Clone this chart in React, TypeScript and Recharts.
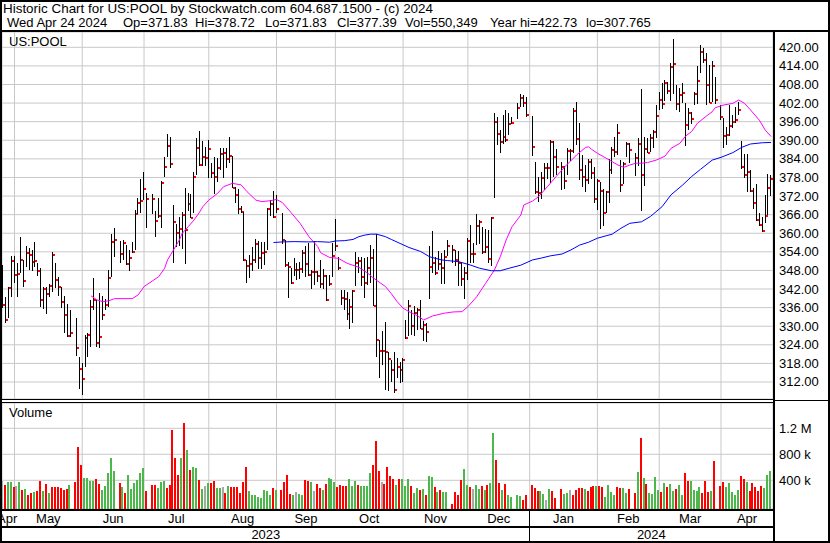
import React from 'react'
import { ComposedChart, Bar, Line, XAxis, YAxis, CartesianGrid } from 'recharts'

const FONT = 'Arial, "Liberation Sans", sans-serif'

// one slot per weekday, slot 1 = Tue Apr 25 2023, market holidays are null
const FIRST_SLOT = 1

const HIGH = [
  349.7, 339.5, 342.8, 352.7, 352.5, 350.3, 358.7, 351.4, 355.9, 355.1,
  354.6, 357.2, 350.3, 348.7, 342.8, 342.8, 343.6, 353.9, 350.3, 346.0,
  342.8, 339.6, 337.2, 335.2, null, 332.6, 320.2, 318.0, 327.2, 327.9,
  338.5, 345.4, 338.3, 340.6, 339.6, 338.7, 348.2, 359.8, 361.6, null,
  357.6, 357.8, 356.2, 354.6, 357.3, 367.5, 371.3, 377.4, 379.8, 373.1,
  null, 372.7, 367.2, 371.3, 376.7, 384.7, 392.0, 391.2, 369.1, 362.9,
  365.4, 366.7, 374.5, 373.1, 372.6, 379.9, 390.6, 393.1, 389.8, 387.7,
  390.1, 382.6, 384.7, 384.2, 387.4, 387.4, 387.4, 390.9, 384.9, 375.0,
  374.2, 368.8, 367.0, 351.4, 353.0, 355.5, 358.1, 357.5, 357.2, 357.2,
  368.0, 370.7, 373.6, 372.3, null, 366.6, 357.8, 350.6, 348.7, 351.9,
  350.3, 350.8, 354.6, 355.9, 357.0, 348.1, 357.6, 347.9, 351.4, 348.4,
  346.5, 346.5, 356.7, 364.5, 352.4, 341.7, 341.7, 341.1, 338.7, 341.7,
  354.1, 352.4, 352.4, 351.9, 352.2, 356.2, 354.8, 359.8, 325.6, 328.3,
  331.5, 321.8, 319.1, 321.8, 319.6, 318.6, 319.6, 332.0, 338.4, 335.2,
  336.5, 335.8, 338.4, 331.8, 330.9, 355.9, 360.7, 352.4, 354.3, 353.7,
  354.6, 357.8, null, 356.2, 354.6, 354.4, 350.8, 349.2, 358.4, 362.7,
  356.7, 366.2, 364.3, 362.1, 361.4, 361.0, 365.4, 398.7, 397.4, 393.3,
  398.2, 399.8, 398.7, 397.4, null, 402.1, 404.9, 404.6, 404.1, null,
  397.8, 383.1, 378.3, 379.9, 382.6, 382.8, 390.1, 389.9, 387.1, null,
  383.1, 381.7, 387.4, 387.1, 400.3, 402.4, 395.5, 385.2, 382.0, 383.8,
  383.8, 381.5, 377.4, 376.6, 374.2, 373.7, 383.8, 387.9, 391.2, 395.3,
  383.6, 383.1, 389.5, 389.2, null, 385.8, 390.6, 406.4, 390.9, 390.6,
  392.0, 393.3, 401.4, 405.7, 408.4, 409.4, 408.9, 415.0, 422.7, 407.8,
  406.8, 408.6, 401.9, 400.3, 399.2, 405.7, 414.0, 420.7, 419.7, 418.3,
  414.3, 415.7, 410.5, null, 401.4, 397.1, 394.4, 401.4, 398.2, 400.6,
  402.4, 389.9, 385.6, 385.6, 380.4, 374.5, 375.9, 366.6, 365.4, 372.3,
  379.0, 378.7,
]

const LOW = [
  335.8, 331.2, 332.9, 339.5, 343.8, 339.3, 347.1, 342.8, 349.0, 347.9,
  347.9, 349.0, 346.0, 336.1, 335.8, 334.2, 339.3, 340.9, 342.2, 339.8,
  336.1, 327.7, 326.4, 326.6, null, 320.2, 310.0, 307.8, 317.0, 320.2,
  323.2, 335.2, 323.2, 322.9, 332.0, 335.2, 336.1, 346.0, 352.2, null,
  350.5, 351.2, 349.8, 347.9, 353.7, 354.6, 366.2, 366.4, 370.7, 361.9,
  null, 366.4, 358.7, 364.8, 361.6, 378.1, 384.5, 381.3, 350.3, 355.5,
  355.9, 354.8, 350.0, 367.3, 364.7, 366.7, 378.8, 381.7, 381.7, 381.7,
  377.7, 377.7, 372.9, 376.3, 380.4, 377.7, 380.9, 382.6, 374.5, 369.9,
  366.2, 366.6, 351.2, 344.1, 345.7, 347.6, 350.3, 348.4, 348.4, 349.8,
  354.6, 365.6, 364.8, 366.6, null, 356.7, 349.0, 339.0, 343.5, 346.0,
  344.7, 345.4, 347.1, 346.0, 346.5, 341.9, 343.3, 344.4, 342.5, 341.9,
  338.2, 343.0, 345.8, 354.1, 348.1, 336.7, 335.2, 332.0, 329.1, 330.9,
  343.0, 347.1, 343.0, 339.0, 343.3, 343.8, 336.5, 320.0, 313.2, 317.2,
  309.4, 309.2, 312.1, 308.6, 313.2, 311.8, 311.8, 325.8, 326.8, 327.2,
  326.8, 328.8, 329.0, 325.3, 324.7, 338.7, 347.3, 346.5, 348.1, 343.6,
  343.6, 352.7, null, 350.3, 349.4, 343.0, 343.0, 339.0, 344.9, 350.3,
  350.3, 356.2, 356.7, 353.3, 353.7, 350.3, 349.7, 371.3, 388.5, 386.0,
  389.0, 389.6, 391.7, 395.3, null, 396.8, 400.8, 400.8, 397.8, null,
  384.9, 372.9, 370.2, 371.3, 374.0, 377.7, 376.1, 378.3, 378.8, null,
  374.2, 374.2, 378.8, 383.1, 385.8, 388.5, 377.0, 374.8, 373.4, 375.6,
  377.2, 369.9, 367.5, 361.3, 362.1, 366.6, 369.7, 379.3, 384.9, 385.3,
  373.4, 375.9, 384.5, 382.8, null, 378.5, 381.7, 367.0, 375.0, 385.6,
  386.3, 387.4, 390.6, 399.8, 400.0, 402.5, 405.1, 402.8, 405.1, 399.8,
  399.2, 402.1, 387.9, 393.3, 395.3, 401.4, 401.7, 411.6, 414.8, 401.4,
  401.9, 402.5, 401.7, null, 396.5, 387.4, 388.5, 391.4, 394.1, 395.5,
  398.2, 380.9, 377.7, 373.4, 373.4, 367.7, 364.1, 362.3, 360.5, 363.4,
  365.9, 371.8,
]

const CLOSE = [
  336.9, 332.0, 342.2, 351.2, 346.5, 346.9, 351.4, 344.7, 353.7, 353.0,
  350.8, 351.2, 347.9, 338.5, 342.1, 340.4, 343.0, 353.0, 344.9, 342.8,
  337.9, 333.6, 327.0, 327.9, null, 322.9, 316.3, 313.1, 326.2, 327.3,
  336.3, 338.5, 324.7, 326.4, 333.7, 337.0, 345.5, 357.3, 357.8, null,
  353.3, 356.8, 350.1, 352.0, 354.1, 366.1, 369.9, 370.4, 374.3, 371.2,
  null, 371.2, 364.0, 365.6, 376.1, 381.5, 388.0, 382.4, 363.6, 360.0,
  361.3, 365.9, 361.1, 369.5, 365.0, 378.3, 387.6, 382.0, 384.7, 384.4,
  387.1, 379.5, 378.3, 381.2, 385.6, 386.0, 384.1, 384.9, 374.6, 372.4,
  367.8, 366.9, 351.4, 349.4, 350.1, 351.4, 356.6, 351.9, 353.7, 354.1,
  367.9, 369.5, 365.4, 367.9, null, 357.8, 349.9, 349.2, 344.0, 348.2,
  348.2, 348.6, 353.7, 350.0, 346.6, 347.6, 347.6, 346.3, 343.6, 346.2,
  338.3, 343.6, 352.7, 356.0, 348.9, 339.0, 338.7, 333.8, 336.1, 341.5,
  350.5, 351.2, 346.0, 344.0, 348.9, 352.0, 336.6, 325.4, 322.1, 322.1,
  321.8, 319.3, 315.9, 309.4, 316.7, 315.9, 319.1, 326.2, 336.5, 330.2,
  334.4, 335.2, 329.1, 330.5, 328.2, 349.2, 350.5, 347.3, 350.2, 348.9,
  352.4, 356.0, null, 354.6, 351.4, 350.3, 345.3, 347.3, 357.6, 353.3,
  353.3, 362.3, 363.7, 354.1, 355.7, 351.7, 365.0, 396.0, 392.0, 389.5,
  391.2, 390.1, 395.2, 395.7, null, 400.5, 403.5, 402.1, 398.2, null,
  387.9, 373.3, 372.9, 377.7, 381.2, 381.2, 389.5, 384.7, 381.5, null,
  381.5, 377.0, 386.7, 386.7, 399.5, 390.5, 380.4, 378.3, 377.2, 383.1,
  379.5, 371.2, 377.0, 373.7, 366.6, 373.3, 380.4, 386.9, 386.2, 392.4,
  375.6, 382.3, 388.8, 386.9, null, 384.3, 388.8, 378.8, 387.3, 386.0,
  390.8, 392.8, 397.8, 403.0, 401.7, 408.6, 406.0, 413.7, 414.6, 401.7,
  404.7, 405.4, 394.9, 398.9, 397.0, 404.8, 409.2, 418.5, 415.9, 407.9,
  402.1, 414.0, 403.0, null, 397.5, 391.4, 391.8, 394.6, 395.9, 396.5,
  399.8, 381.3, 378.8, 379.9, 373.7, 369.9, 364.2, 362.8, 360.7, 365.6,
  374.6, 377.4,
]

// volume in thousands of shares
const VOLUME_K = [
  395, 328, 374, 374, 292, 313, 374, 251, 267, 174,
  205, 221, 236, 390, 236, 344, 205, 297, 297, 297,
  282, 251, 267, 328, null, 374, 913, 636, 436, 436,
  390, 390, 421, 344, 251, 313, 513, 744, 544, null,
  359, 297, 205, 482, 267, 359, 405, 513, 590, 236,
  null, 328, 328, 282, 374, 390, 282, 328, 1174, 744,
  482, 744, 1282, 867, 559, 605, 590, 405, 267, 313,
  359, 359, 390, 282, 282, 297, 205, 313, 297, 297,
  297, 205, 374, 605, 236, 174, 174, 144, 128, 251,
  236, 174, 282, 251, null, 251, 374, 482, 190, 174,
  221, 190, 174, 405, 390, 374, 236, 344, 282, 251,
  344, 436, 421, 374, 297, 328, 313, 313, 421, 313,
  390, 328, 313, 313, 313, 513, 636, 1005, 549, 374,
  344, 605, 467, 421, 328, 421, 421, 313, 421, 305,
  205, 282, 251, 267, 174, 467, 451, 297, 221, 251,
  221, 221, null, 36, 221, 174, 405, 574, 328, 297,
  267, 328, 267, 313, 251, 328, 359, 1128, 713, 359,
  251, 344, 174, 144, null, 174, 159, 97, 174, null,
  328, 282, 236, 236, 190, 97, 267, 236, 128, null,
  267, 190, 205, 251, 174, 251, 282, 282, 267, 236,
  297, 313, 313, 313, 297, 144, 328, 221, 174, 297,
  282, 282, 205, 267, null, 205, 528, 1051, 436, 344,
  205, 190, 451, 251, 221, 359, 297, 344, 236, 267,
  328, 174, 513, 390, 390, 251, 236, 297, 205, 390,
  221, 236, 697, null, 313, 374, 297, 359, 221, 174,
  251, 467, 421, 374, 236, 359, 297, 236, 313, 282,
  482, 550,
]

// 1 = up day, -1 = down day, 0 = unchanged
const DIRECTION = [
  0, -1, 1, 1, -1, 0, 1, -1, 1, -1,
  -1, 1, -1, -1, 1, -1, 1, -1, -1, -1,
  -1, -1, -1, 1, 0, -1, -1, -1, 1, 1,
  1, 1, -1, -1, 1, 1, 1, 1, 1, 0,
  -1, 1, -1, 1, 1, 1, 1, 1, 1, -1,
  0, -1, -1, 1, 1, 1, -1, -1, -1, -1,
  -1, 1, -1, 1, -1, 1, 1, -1, 1, 0,
  1, -1, -1, 1, 1, 0, -1, 1, -1, -1,
  -1, -1, -1, -1, 1, 1, 1, 1, 1, 1,
  1, 1, -1, 1, 0, -1, -1, -1, -1, 1,
  0, 1, 1, -1, -1, 1, 0, -1, -1, 1,
  -1, 1, 1, 1, -1, -1, -1, -1, 1, 1,
  1, -1, 1, 1, 1, 1, -1, -1, -1, 0,
  -1, -1, -1, -1, 1, -1, 1, 1, 1, -1,
  1, 1, -1, 1, -1, 1, 1, -1, 1, -1,
  1, 1, 0, -1, -1, -1, -1, 1, 1, -1,
  0, 1, 1, -1, 1, -1, 1, 1, -1, -1,
  1, -1, 1, 1, 0, 1, 1, -1, -1, 0,
  -1, -1, -1, 1, 1, 0, 1, -1, -1, 0,
  -1, 1, 1, 0, -1, -1, -1, -1, 1, -1,
  -1, -1, 1, -1, -1, 1, 1, 1, 1, -1,
  -1, 1, 1, -1, 0, -1, 1, -1, 1, -1,
  1, 1, 1, 1, -1, 1, -1, 1, 1, -1,
  1, 1, -1, -1, 1, 1, 1, 1, -1, -1,
  -1, 1, -1, 0, -1, -1, 1, 1, 1, 1,
  1, -1, -1, 1, -1, -1, -1, -1, -1, 1,
  1, 1,
]

// moving averages (slot, value)
const MA_FAST_SLOTS = [
  31, 33, 35, 37, 39, 45, 47, 49, 52, 54, 56, 57, 59, 61, 62, 64, 66, 68, 69, 71,
  74, 76, 79, 82, 84, 87, 89, 92, 94, 96, 99, 102, 105, 108, 109, 112, 115, 118, 122, 125,
  127, 131, 133, 135, 137, 139, 142, 144, 147, 151, 154, 157, 159, 162, 165, 168, 170, 172, 174, 177,
  178, 181, 183, 186, 189, 192, 196, 199, 200, 201, 203, 206, 208, 210, 212, 214, 216, 218, 220, 223,
  226, 228, 231, 233, 235, 237, 240, 242, 243, 246, 249, 251, 253, 255, 258, 260, 262,
]
const MA_FAST = [
  339.8, 338.5, 337.9, 338.2, 338.9, 338.9, 340.1, 342.8, 344.7, 346.0, 348.7, 351.4, 354.6, 357.8, 360.0, 362.1, 364.3, 367.0, 368.6, 370.7,
  372.9, 375.0, 376.1, 375.6, 373.4, 370.7, 370.2, 370.5, 370.9, 369.9, 366.6, 363.2, 358.9, 355.7, 353.7, 352.2, 351.9, 350.3, 349.0, 347.1,
  345.5, 342.8, 340.5, 337.9, 335.8, 334.7, 333.3, 332.0, 333.3, 334.2, 334.6, 334.7, 336.3, 339.5, 343.8, 348.1, 352.4, 357.8, 362.1, 365.9,
  369.1, 370.4, 371.8, 375.0, 378.3, 381.5, 385.3, 387.7, 387.9, 387.1, 385.8, 384.2, 383.1, 382.0, 381.3, 382.0, 382.6, 382.6, 382.8, 383.6,
  384.9, 387.4, 389.0, 391.4, 392.8, 395.5, 397.8, 399.2, 400.5, 401.4, 401.9, 403.0, 401.9, 399.8, 396.5, 393.3, 391.2,
]
const MA_SLOW_SLOTS = [
  93, 96, 100, 105, 108, 112, 114, 117, 120, 122, 124, 126, 128, 131, 133, 136, 139, 143, 146, 150,
  152, 156, 160, 163, 167, 170, 173, 177, 181, 184, 187, 191, 194, 197, 200, 203, 208, 211, 214, 218,
  221, 225, 228, 232, 235, 238, 242, 245, 249, 252, 255, 259, 262,
]
const MA_SLOW = [
  357.0, 357.2, 357.3, 357.2, 357.3, 357.1, 357.5, 357.6, 358.0, 358.9, 359.4, 359.7, 359.7, 358.9, 358.0, 356.7, 355.4, 354.1, 352.4, 351.4,
  351.2, 350.8, 349.7, 348.7, 347.9, 347.9, 348.7, 349.7, 351.4, 352.0, 352.7, 353.3, 354.6, 356.2, 357.1, 358.4, 359.7, 361.6, 363.2, 363.7,
  365.4, 368.6, 372.4, 375.6, 378.3, 380.6, 383.6, 384.5, 386.0, 387.7, 388.8, 389.2, 389.3,
]

const PRICE_TICKS = [312, 318, 324, 330, 336, 342, 348, 354, 360, 366, 372, 378, 384, 390, 396, 402, 408, 414, 420]
const VOLUME_TICKS = [400, 800, 1200]
const VOLUME_LABELS = ['400 k', '800 k', '1.2 M']
// slot of the first trading day of each month (gridlines)
const MONTH_GRID = [5, 28, 49, 71, 94, 114, 137, 159, 180, 203, 224, 245]
const MONTH_LABELS = ['Apr', 'May', 'Jun', 'Jul', 'Aug', 'Sep', 'Oct', 'Nov', 'Dec', 'Jan', 'Feb', 'Mar', 'Apr']
const YEAR_START = [180]
const YEAR_LABELS = ['2023', '2024']

const TITLE = 'Historic Chart for US:POOL by Stockwatch.com 604.687.1500 - (c) 2024'
const QUOTE_PARTS = ['Wed Apr 24 2024', 'Op=371.83', 'Hi=378.72', 'Lo=371.83', 'Cl=377.39', 'Vol=550,349', 'Year hi=422.73', 'lo=307.765']
const QUOTE_X = [7, 123, 195, 265, 337, 405, 490, 586]

const X_DOMAIN: [number, number] = [0.754, 262.65]
const PRICE_DOMAIN: [number, number] = [306.51, 424.94]
const VOLUME_DOMAIN: [number, number] = [-41.5, 1589]

const rows = HIGH.map((h, k) => ({
  slot: FIRST_SLOT + k,
  range: h == null ? null : [LOW[k], h],
  high: h,
  low: LOW[k],
  close: CLOSE[k],
  vol: VOLUME_K[k],
  dir: DIRECTION[k],
  fast: null as number | null,
  slow: null as number | null,
}))
MA_FAST_SLOTS.forEach((s, i) => { rows[s - FIRST_SLOT].fast = MA_FAST[i] })
MA_SLOW_SLOTS.forEach((s, i) => { rows[s - FIRST_SLOT].slow = MA_SLOW[i] })

const monthBounds = [0, ...MONTH_GRID, X_DOMAIN[1]]
const monthMids = MONTH_LABELS.map((_, i) => (monthBounds[i] + monthBounds[i + 1]) / 2)
const yearBounds = [X_DOMAIN[0], ...YEAR_START, X_DOMAIN[1]]
const yearMids = YEAR_LABELS.map((_, i) => (yearBounds[i] + yearBounds[i + 1]) / 2)

const OhlcBar = (props: any) => {
  const { x, y, width, height, payload } = props
  if (!payload || payload.high == null) return null
  const top = Math.min(y, y + height)
  const h = Math.max(1, Math.abs(height))
  const cx = Math.floor(x + width / 2)
  const cy = top + ((payload.high - payload.close) / (payload.high - payload.low)) * h
  return (
    <g>
      <rect x={cx} y={Math.round(top)} width={1} height={Math.round(h)} fill="#000" />
      <rect x={cx + 1} y={Math.round(cy) - 1} width={2} height={2} fill="#ff0000" />
    </g>
  )
}

const VOL_COLORS: Record<string, string> = { '1': '#4cb84c', '-1': '#ff0000', '0': '#a8a8a8' }

const VolumeBar = (props: any) => {
  const { x, y, width, height, payload } = props
  if (!payload || payload.vol == null) return null
  const cx = Math.floor(x + width / 2)
  return <rect x={cx - 1} y={Math.round(y)} width={2} height={Math.round(height) + 3} fill={VOL_COLORS[String(payload.dir)]} />
}

const PriceTick = (props: any) => (
  <text x={props.x} y={props.y + 4.5} fontSize={13} fontFamily={FONT} fill="#000">
    {Number(props.payload.value).toFixed(2)}
  </text>
)

const VolumeTick = (props: any) => (
  <text x={props.x} y={props.y + 4.5} fontSize={13} fontFamily={FONT} fill="#000">
    {VOLUME_LABELS[props.index]}
  </text>
)

// baselines inside the 138px volume chart: month row and year row under the plot
const MonthTick = (props: any) => (
  <text x={props.x} y={119.5} textAnchor="middle" fontSize={13} fontFamily={FONT} fill="#000">
    {MONTH_LABELS[props.index]}
  </text>
)

const YearTick = (props: any) => (
  <text x={props.x} y={136} textAnchor="middle" fontSize={13} fontFamily={FONT} fill="#000">
    {YEAR_LABELS[props.index]}
  </text>
)

export default function App() {
  return (
    <div style={{ position: 'absolute', left: 0, top: 0, width: 830, height: 543, background: '#fff', overflow: 'hidden' }}>
      <div style={{ position: 'absolute', left: 0, top: 32 }}>
        <ComposedChart width={830} height={367} data={rows} margin={{ top: 0, right: 2, bottom: 0, left: 2 }}>
          <CartesianGrid stroke="#c8c8c8" strokeWidth={1} />
          <XAxis dataKey="slot" type="number" domain={X_DOMAIN} ticks={MONTH_GRID} allowDataOverflow hide />
          <YAxis
            orientation="right"
            width={55}
            domain={PRICE_DOMAIN}
            ticks={PRICE_TICKS}
            allowDataOverflow
            axisLine={false}
            tickLine={false}
            tickSize={0}
            tickMargin={6}
            interval={0}
            tick={<PriceTick />}
          />
          <Bar dataKey="range" barSize={3} shape={<OhlcBar />} isAnimationActive={false} />
          <Line dataKey="fast" stroke="#ff00ff" strokeWidth={1} dot={false} connectNulls type="linear" isAnimationActive={false} />
          <Line dataKey="slow" stroke="#0000ff" strokeWidth={1} dot={false} connectNulls type="linear" isAnimationActive={false} />
        </ComposedChart>
      </div>
      <div style={{ position: 'absolute', left: 0, top: 403 }}>
        <ComposedChart width={830} height={138} data={rows} margin={{ top: 0, right: 2, bottom: 0, left: 2 }}>
          <CartesianGrid stroke="#c8c8c8" strokeWidth={1} />
          <XAxis dataKey="slot" type="number" domain={X_DOMAIN} ticks={MONTH_GRID} allowDataOverflow hide />
          <XAxis
            xAxisId="m"
            dataKey="slot"
            type="number"
            domain={X_DOMAIN}
            ticks={monthMids}
            allowDataOverflow
            height={17}
            axisLine={false}
            tickLine={false}
            tickSize={0}
            tickMargin={0}
            interval={0}
            tick={<MonthTick />}
          />
          <XAxis
            xAxisId="y"
            dataKey="slot"
            type="number"
            domain={X_DOMAIN}
            ticks={yearMids}
            allowDataOverflow
            height={15}
            axisLine={false}
            tickLine={false}
            tickSize={0}
            tickMargin={0}
            interval={0}
            tick={<YearTick />}
          />
          <YAxis
            orientation="right"
            width={55}
            domain={VOLUME_DOMAIN}
            ticks={VOLUME_TICKS}
            allowDataOverflow
            axisLine={false}
            tickLine={false}
            tickSize={0}
            tickMargin={6}
            interval={0}
            tick={<VolumeTick />}
          />
          <Bar dataKey="vol" barSize={2} shape={<VolumeBar />} isAnimationActive={false} />
        </ComposedChart>
      </div>
      <svg width={830} height={543} style={{ position: 'absolute', left: 0, top: 0, pointerEvents: 'none' }}>
        <g fill="#000">
          <rect x={0} y={0} width={830} height={2} />
          <rect x={0} y={0} width={2} height={543} />
          <rect x={828} y={0} width={2} height={543} />
          <rect x={0} y={541} width={830} height={2} />
          <rect x={0} y={30} width={830} height={2} />
          <rect x={773} y={30} width={2} height={513} />
          <rect x={0} y={399} width={773} height={1} />
          <rect x={0} y={402} width={773} height={1} />
          <rect x={773} y={400} width={57} height={1} />
          <rect x={0} y={509} width={773} height={2} />
          <rect x={0} y={526} width={773} height={2} />
          <rect x={529} y={511} width={1} height={30} />
        </g>
        <g fontFamily={FONT} fontSize={13} fill="#000">
          <text x={3} y={13} textLength={430} lengthAdjust="spacingAndGlyphs">{TITLE}</text>
          {QUOTE_PARTS.map((t, i) => (
            <text key={t} x={QUOTE_X[i]} y={27}>{t}</text>
          ))}
          <text x={9} y={46}>US:POOL</text>
          <text x={9} y={417}>Volume</text>
        </g>
      </svg>
    </div>
  )
}
